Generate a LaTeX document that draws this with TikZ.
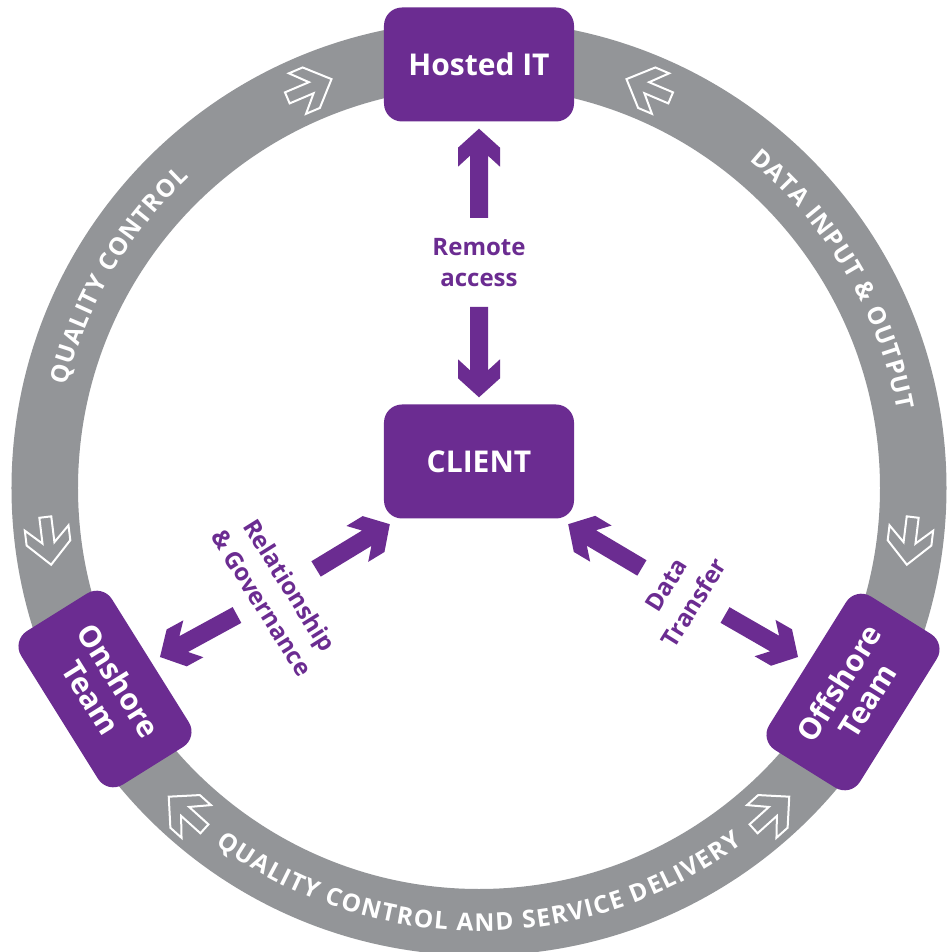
\documentclass[tikz,border=0pt]{standalone}
\usepackage{fontspec}
\setmainfont{Open Sans}
\usetikzlibrary{calc,decorations.text}
\definecolor{brandpurple}{RGB}{107,44,145}
\definecolor{ringgray}{RGB}{147,149,152}
\newcommand{\ringfont}{\bfseries\fontsize{24.5}{28}\selectfont}
\begin{document}
\begin{tikzpicture}[x=1pt,y=1pt,
  box/.style={fill=brandpurple, rounded corners=18, text=white,
    font=\bfseries\fontsize{30}{33}\selectfont, align=center, inner sep=0pt},
  lab/.style={text=brandpurple, font=\bfseries\fontsize{24}{31}\selectfont,
    align=center, inner sep=0pt},
  rotlab/.style={lab, font=\bfseries\fontsize{24}{33}\selectfont},
  bigarrow/.style={fill=brandpurple, to path={
    let \p1=(\tikztostart), \p2=(\tikztotarget),
        \n1={atan2(\y2-\y1,\x2-\x1)}, \n2={veclen(\x2-\x1,\y2-\y1)} in
    ([shift={(\p2)},rotate=\n1]0,0) -- ([shift={(\p2)},rotate=\n1]-19,21)
    -- ([shift={(\p2)},rotate=\n1]-38,21) -- ([shift={(\p2)},rotate=\n1]-27,9)
    -- ([shift={(\p2)},rotate=\n1]-\n2,9) -- ([shift={(\p2)},rotate=\n1]-\n2,-9)
    -- ([shift={(\p2)},rotate=\n1]-27,-9) -- ([shift={(\p2)},rotate=\n1]-38,-21)
    -- ([shift={(\p2)},rotate=\n1]-19,-21) -- cycle}},
  ringarrow/.pic={\draw[white, line width=2pt, line join=miter]
    (-24,-6) -- (-24,6) -- (2,6) -- (-13,22) -- (2,22) -- (24,0)
    -- (2,-22) -- (-13,-22) -- (2,-6) -- cycle;},
  ringtext/.style={decorate, decoration={text along path, text color=white,
    text={|\ringfont|#1}, text align={fit to path}}}
]
\useasboundingbox (-479,-464) rectangle (468,488);
\fill[white] (-479,-464) rectangle (468,488);

% ring
\draw[ringgray, line width=66.5] (0,0) circle[radius=434.25];

% ring texts
\path[ringtext={QUALITY CONTROL}] (166:425) arc[start angle=166, end angle=133, radius=425];
\path[ringtext={DATA INPUT {\&} OUTPUT}] (50.5:425) arc[start angle=50.5, end angle=10.5, radius=425];
\path[ringtext={QUALITY CONTROL AND SERVICE DELIVERY}] (233.5:443) arc[start angle=233.5, end angle=306.5, radius=443];

% ring arrows
\pic[rotate=23] at (113:434) {ringarrow};
\pic[rotate=157] at (67:434) {ringarrow};
\pic[rotate=-83] at (187:434) {ringarrow};
\pic[rotate=-97] at (-7:434) {ringarrow};
\pic[rotate=138] at (228:437) {ringarrow};
\pic[rotate=42] at (-48:437) {ringarrow};

% boxes
\node[box, minimum width=190, minimum height=114] (hosted) at (0,423.5) {Hosted IT};
\node[box, minimum width=190, minimum height=114] (client) at (0,26.5) {CLIENT};
\node[box, minimum width=181, minimum height=107, rotate=-58] (onshore) at (-374,-201) {Onshore\\Team};
\node[box, minimum width=181, minimum height=107, rotate=58] (offshore) at (374,-204) {Offshore\\Team};

% labels
\node[lab] (remote) at (0,225.5) {Remote\\access};
\node[rotlab, rotate=-58] (relgov) at (-203,-106) {Relationship\\\& Governance};
\node[rotlab, rotate=58] (datatr) at (201,-106) {Data\\Transfer};

% arrows
\coordinate (raup) at (0,270);
\coordinate (radown) at (0,181);
\coordinate (rg1) at (-163,-81);
\coordinate (rg2) at (-242,-127);
\coordinate (ontip) at (-319,-169);
\coordinate (dt1) at (163,-80);
\coordinate (dt2) at (246,-127);
\coordinate (offtip) at (319,-169);
\path[bigarrow] (raup) to ([yshift=-7]hosted.south);
\path[bigarrow] (radown) to ([yshift=7]client.north);
\path[bigarrow] (rg1) to ([shift={(6,-5.5)}]client.south west);
\path[bigarrow] (rg2) to (ontip);
\path[bigarrow] (dt1) to ([shift={(-6,-5.5)}]client.south east);
\path[bigarrow] (dt2) to (offtip);
\end{tikzpicture}
\end{document}
